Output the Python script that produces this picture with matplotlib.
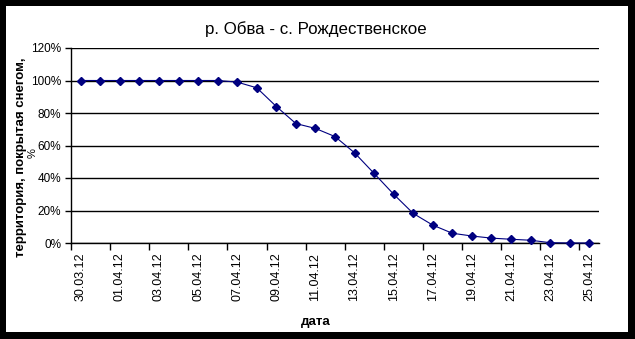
import matplotlib
matplotlib.use("Agg")
import matplotlib.pyplot as plt
from matplotlib.ticker import FixedLocator, PercentFormatter
from matplotlib.patches import Rectangle

dates = ["30.03.12", "31.03.12"] + ["%02d.04.12" % d for d in range(1, 26)]
snow_cover = [100, 100, 100, 100, 100, 100, 100, 100, 99, 95.5, 84, 73.5, 70.5,
              65.5, 55.5, 42.8, 30, 18.2, 11, 6, 4.3, 3, 2.3, 1.7, 0.2, 0, 0]
yticks = [0, 20, 40, 60, 80, 100, 120]

plt.rcParams['font.family'] = ['Liberation Sans', 'DejaVu Sans']

W, H = 635, 339
fig = plt.figure(figsize=(W / 100, H / 100), dpi=100)
fig.patch.set_facecolor('black')
bg = Rectangle((6 / W, 1 - 332 / H), (628 - 6) / W, (332 - 6) / H,
               transform=fig.transFigure, facecolor='white', edgecolor='none',
               zorder=-10)
fig.patches.append(bg)

ax = fig.add_axes([71 / W, 1 - 243 / H, (599 - 71) / W, (243 - 48) / H], zorder=1)
ax.set_facecolor('white')
x = list(range(len(dates)))
ax.plot(x, snow_cover, color='#000080', lw=0.8, marker='D', ms=3.6,
        markerfacecolor='#000080', markeredgecolor='#000080', zorder=3,
        clip_on=False)

ax.set_xlim(-0.5, len(dates) - 0.5)
ax.set_ylim(0, 120)
ax.set_yticks(yticks)
ax.yaxis.set_major_formatter(PercentFormatter(decimals=0))
ax.grid(axis='y', color='black', lw=1)
for s in ['top', 'right']:
    ax.spines[s].set_visible(False)
for s in ['left', 'bottom']:
    ax.spines[s].set_color('black')
    ax.spines[s].set_linewidth(1)

ax.set_xticks(x[::2])
ax.set_xticklabels(dates[::2], rotation=90, fontsize=9)
ax.xaxis.set_minor_locator(FixedLocator([i - 0.5 for i in range(0, len(dates), 2)]))
ax.tick_params(axis='x', which='major', length=0, pad=7)
ax.tick_params(axis='x', which='minor', length=5, width=1, direction='out')
ax.tick_params(axis='y', length=4, width=1, labelsize=8.5, pad=3)

fig.text(316 / W, 1 - 29 / H, "р. Обва - с. Рождественское", ha='center', va='center',
         fontsize=12.2)
fig.text(316 / W, 1 - 322 / H, "дата", ha='center', va='center', fontsize=9.5,
         fontweight='bold')
fig.text(21 / W, 1 - 157 / H, "территория, покрытая снегом,", ha='center', va='center',
         rotation=90, fontsize=9.5, fontweight='bold')
fig.text(33 / W, 1 - 153 / H, "%", ha='center', va='center', rotation=90, fontsize=8)

fig.savefig("out.png", dpi=100, facecolor=fig.get_facecolor())
